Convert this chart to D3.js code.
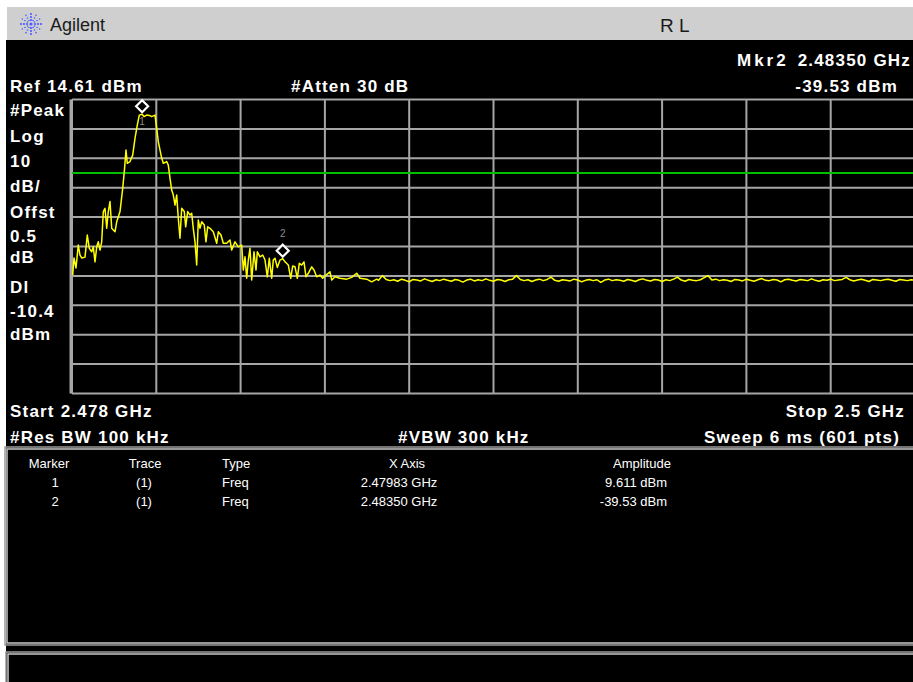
<!DOCTYPE html>
<html>
<head>
<meta charset="utf-8">
<script src="https://cdn.jsdelivr.net/npm/d3@7"></script>
<style>
  body { margin: 0; background: #fff; }
  svg { display: block; }
</style>
</head>
<body>
<svg id="chart" width="913" height="682"></svg>
<script>
// Analyzer settings
const startMHz = 2478;
const stopMHz = 2500;
const refLevel = 14.61;
const dbPerDiv = 10;
const displayLine = -10.4;

// Trace around the carrier (MHz, dBm)
const peakFreq = [
  2478.018, 2478.052, 2478.104, 2478.164, 2478.209, 2478.253, 2478.339, 2478.399, 2478.451, 2478.514,
  2478.556, 2478.600, 2478.645, 2478.686, 2478.731, 2478.775, 2478.817, 2478.861, 2478.906, 2478.947,
  2478.992, 2479.036, 2479.078, 2479.122, 2479.167, 2479.253, 2479.323, 2479.365, 2479.409, 2479.443,
  2479.514, 2479.584, 2479.644, 2479.704, 2479.756, 2479.830, 2479.879, 2479.949, 2480.017, 2480.080,
  2480.166, 2480.210, 2480.252, 2480.297, 2480.341, 2480.383, 2480.471, 2480.513, 2480.558, 2480.602,
  2480.644, 2480.688, 2480.732, 2480.774, 2480.818, 2480.863, 2480.930, 2480.967, 2481.019, 2481.079,
  2481.124, 2481.165, 2481.210, 2481.254, 2481.296, 2481.340, 2481.385, 2481.452, 2481.496, 2481.541,
  2481.601, 2481.687, 2481.776, 2481.818, 2481.888, 2481.948, 2482.037, 2482.123, 2482.168, 2482.254,
  2482.340, 2482.429, 2482.471, 2482.515, 2482.559, 2482.601, 2482.645, 2482.690, 2482.750, 2482.802,
  2482.836, 2482.906, 2482.977, 2483.037, 2483.097, 2483.149, 2483.212, 2483.253, 2483.298, 2483.358,
  2483.428, 2483.500, 2483.559, 2483.645, 2483.708, 2483.760, 2483.820, 2483.880, 2483.932, 2483.994,
  2484.054, 2484.107, 2484.167, 2484.255, 2484.315, 2484.386, 2484.472, 2484.543, 2484.629, 2484.733,
  2484.778, 2484.864, 2484.994, 2485.169, 2485.299, 2485.430, 2485.516, 2485.691, 2485.821, 2485.952
];
const peakLevel = [
  -45.1, -39.3, -42.7, -34.9, -38.3, -39.3, -39.0, -31.5, -36.0, -37.2,
  -35.5, -40.6, -35.5, -33.8, -36.6, -33.8, -23.5, -22.4, -29.2, -23.5,
  -20.1, -29.2, -29.8, -30.4, -27.0, -23.5, -15.6, -9.9, -2.6, -7.1,
  -6.5, -4.3, 1.4, 5.9, 9.3, 9.611, 8.8, 9.3, 9.2, 8.8,
  9.3, 4.8, 0.3, -2.6, -5.4, -7.1, -6.5, -7.7, -12.2, -16.2,
  -17.9, -21.3, -17.9, -25.8, -32.6, -22.4, -23.5, -28.7, -23.5, -24.7,
  -24.1, -29.2, -33.8, -41.7, -26.4, -29.2, -27.0, -28.1, -33.8, -28.7,
  -29.2, -30.4, -34.3, -30.4, -31.5, -34.3, -34.3, -33.2, -36.6, -33.8,
  -35.5, -34.9, -43.4, -38.9, -46.2, -40.0, -36.0, -46.8, -37.2, -43.4,
  -37.2, -38.9, -38.3, -40.0, -45.7, -39.4, -46.2, -40.0, -39.4, -42.5,
  -40.0, -39.53, -40.6, -41.7, -46.2, -42.0, -42.3, -46.2, -41.1, -41.7,
  -40.6, -45.7, -44.5, -42.3, -43.4, -45.7, -45.1, -46.2, -45.1, -44.0,
  -46.8, -45.7, -46.2, -46.5, -45.9, -44.5, -46.2, -46.5, -47.4, -46.5
];

// Noise floor, one reading every 0.1 MHz from 2486.0 to 2500.0 MHz
const floorLevel = [
  -46.9, -45.3, -46.6, -47.0, -46.7, -47.2, -46.5, -46.9, -47.4, -46.6,
  -46.8, -47.1, -46.4, -46.9, -47.3, -46.7, -47.0, -46.5, -46.9, -47.2,
  -46.6, -46.9, -47.5, -46.8, -46.5, -47.1, -46.7, -47.0, -46.4, -46.9,
  -47.2, -46.6, -46.8, -47.3, -46.7, -46.5, -45.3, -46.6, -47.0, -46.7,
  -47.3, -46.8, -46.5, -47.0, -46.6, -45.8, -46.9, -47.2, -46.7, -46.9,
  -47.1, -46.5, -46.8, -47.4, -46.9, -46.6, -47.0, -46.7, -47.6, -46.8,
  -46.5, -47.0, -46.7, -46.9, -47.2, -46.6, -46.9, -47.3, -46.7, -46.4,
  -46.9, -47.1, -46.6, -46.8, -47.3, -46.7, -47.0, -46.5, -45.8, -46.8,
  -47.2, -46.6, -46.9, -47.0, -46.7, -46.0, -45.3, -46.8, -46.5, -47.0,
  -46.7, -46.9, -47.3, -46.6, -46.8, -47.1, -46.5, -46.9, -47.2, -46.7,
  -46.3, -46.9, -47.0, -46.6, -46.8, -47.4, -46.7, -46.5, -46.9, -47.1,
  -46.6, -46.8, -47.0, -46.4, -46.9, -47.2, -46.7, -46.9, -46.5, -47.0,
  -46.8, -46.6, -45.9, -46.7, -47.1, -46.8, -46.5, -46.9, -47.3, -46.6,
  -46.8, -47.0, -46.7, -46.5, -46.9, -47.2, -46.6, -46.8, -47.0, -46.7,
  -46.9
];
const floorFreq = floorLevel.map((d, i) => 2486 + i * 0.1);

// Markers
const markerId = ["1", "2"];
const markerFreq = [2479.83, 2483.50];
const markerLevel = [9.611, -39.53];
const markerFreqText = ["2.47983 GHz", "2.48350 GHz"];
const markerAmpText = ["9.611 dBm", "-39.53 dBm"];

// Left annotation column
const sideLabels = ["#Peak", "Log", "10", "dB/", "Offst", "0.5", "dB", "Dl", "-10.4", "dBm"];
const sideBaselines = [116, 142, 167, 192, 218, 242, 263, 293, 317, 340];

const svg = d3.select("#chart");
const W = 913, H = 682;
const font = "'Liberation Sans', Arial, sans-serif";

// Scales
const x = d3.scaleLinear().domain([startMHz, stopMHz]).range([72, 915]);
const y = d3.scaleLinear().domain([refLevel - 10 * dbPerDiv, refLevel]).range([393.5, 99.5]);

// Title bar
svg.append("rect").attr("width", W).attr("height", H).attr("fill", "#fff");
svg.append("rect").attr("x", 7).attr("y", 7).attr("width", W - 7).attr("height", 33).attr("fill", "#cfcfcf");
svg.append("rect").attr("x", 6).attr("y", 40).attr("width", W - 6).attr("height", H - 40).attr("fill", "#000");

// Agilent spark logo
const logo = svg.append("g").attr("transform", "translate(31,24)");
d3.range(12).forEach(k => {
  const a = (k / 12) * 2 * Math.PI;
  [4, 7, 10].forEach(r => {
    logo.append("circle")
      .attr("cx", Math.cos(a) * r)
      .attr("cy", Math.sin(a) * r)
      .attr("r", k % 3 === 0 ? 1.1 : 0.8)
      .attr("fill", "#4a5cff");
  });
});
logo.append("circle").attr("r", 1.6).attr("fill", "#4a5cff");

svg.append("text").attr("x", 50).attr("y", 31).text("Agilent")
  .attr("font-family", font).attr("font-size", 18).attr("fill", "#1a1a1a");
svg.append("text").attr("x", 660).attr("y", 32).text("R L")
  .attr("font-family", font).attr("font-size", 19).attr("fill", "#1a1a1a");

// Status text
function status(tx, ty, str, anchor, spacing) {
  svg.append("text")
    .attr("x", tx).attr("y", ty)
    .attr("text-anchor", anchor || "start")
    .attr("font-family", font).attr("font-size", 17).attr("font-weight", "bold")
    .attr("letter-spacing", spacing || 1.2)
    .attr("fill", "#fff")
    .text(str);
}
status(737, 66, "Mkr2", "start", 3);
status(911, 66, "2.48350 GHz", "end");
status(898, 92, "-39.53 dBm", "end");
status(10, 92, "Ref 14.61 dBm");
status(291, 92, "#Atten 30 dB");
sideLabels.forEach((s, i) => status(10, sideBaselines[i], s));
status(10, 417, "Start 2.478 GHz");
status(905, 417, "Stop 2.5 GHz", "end");
status(10, 443, "#Res BW 100 kHz");
status(398, 443, "#VBW 300 kHz");
status(900, 443, "Sweep 6 ms (601 pts)", "end");

// Graticule
const grid = svg.append("g").attr("stroke", "#a6a6a6").attr("stroke-width", 2);
grid.selectAll("line.v")
  .data(d3.range(11).map(i => startMHz + i * (stopMHz - startMHz) / 10))
  .enter().append("line")
  .attr("x1", d => x(d)).attr("x2", d => x(d))
  .attr("y1", y.range()[1]).attr("y2", y.range()[0]);
grid.selectAll("line.h")
  .data(d3.range(11).map(i => refLevel - i * dbPerDiv))
  .enter().append("line")
  .attr("x1", x.range()[0]).attr("x2", x.range()[1])
  .attr("y1", d => y(d)).attr("y2", d => y(d));
svg.append("line")
  .attr("x1", x.range()[0] - 1).attr("x2", x.range()[0] - 1)
  .attr("y1", y.range()[1]).attr("y2", y.range()[0])
  .attr("stroke", "#a6a6a6").attr("stroke-width", 3);

// Display line
svg.append("line")
  .attr("x1", x.range()[0]).attr("x2", x.range()[1])
  .attr("y1", y(displayLine)).attr("y2", y(displayLine))
  .attr("stroke", "#00c000").attr("stroke-width", 2);

// Trace
const trace = peakFreq.map((f, i) => [f, peakLevel[i]])
  .concat(floorFreq.map((f, i) => [f, floorLevel[i]]));
svg.append("path")
  .datum(trace)
  .attr("fill", "none")
  .attr("stroke", "#ffff00")
  .attr("stroke-width", 1.5)
  .attr("stroke-linejoin", "round")
  .attr("d", d3.line().x(d => x(d[0])).y(d => y(d[1])));

// Markers
markerId.forEach((id, i) => {
  const mx = x(markerFreq[i]);
  const my = y(markerLevel[i]) - 8;
  svg.append("path")
    .attr("d", `M${mx},${my - 6}L${mx + 6},${my}L${mx},${my + 6}L${mx - 6},${my}Z`)
    .attr("fill", "#000").attr("stroke", "#fff").attr("stroke-width", 2.2);
  svg.append("text")
    .attr("x", mx).attr("y", i === 0 ? my + 19 : my - 14)
    .attr("text-anchor", "middle")
    .attr("font-family", font).attr("font-size", 10)
    .attr("fill", "#8c8c8c")
    .text(id);
});

// Marker table frame
function frame(fx, fy, fw, fh) {
  svg.append("rect").attr("x", fx).attr("y", fy).attr("width", fw).attr("height", fh)
    .attr("fill", "none").attr("stroke", "#9a9a9a").attr("stroke-width", 1.5);
  svg.append("rect").attr("x", fx + 2).attr("y", fy + 2).attr("width", fw - 4).attr("height", fh - 4)
    .attr("fill", "none").attr("stroke", "#c8c8c8").attr("stroke-width", 1.5);
}
frame(5, 447, W + 10, 198);
frame(6, 652, W + 10, 40);

// Marker table
function cell(tx, ty, str, anchor) {
  svg.append("text")
    .attr("x", tx).attr("y", ty)
    .attr("text-anchor", anchor || "middle")
    .attr("font-family", font).attr("font-size", 13)
    .attr("fill", "#fff")
    .text(str);
}
cell(49, 468, "Marker");
cell(145, 468, "Trace");
cell(222, 468, "Type", "start");
cell(407, 468, "X Axis");
cell(642, 468, "Amplitude");
markerId.forEach((id, i) => {
  const ty = 487 + i * 19;
  cell(55, ty, id);
  cell(144, ty, "(1)");
  cell(222, ty, "Freq", "start");
  cell(399, ty, markerFreqText[i]);
  cell(667, ty, markerAmpText[i], "end");
});
</script>
</body>
</html>
